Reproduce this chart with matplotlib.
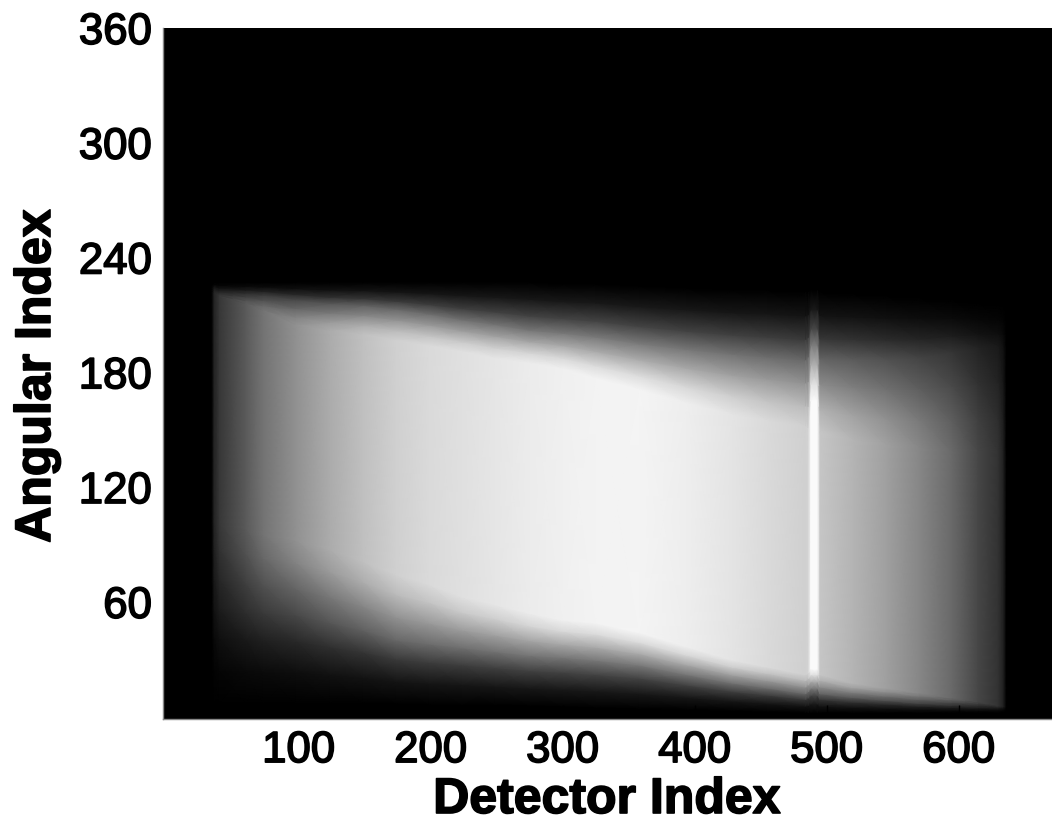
import numpy as np
import matplotlib
matplotlib.use("Agg")
import matplotlib.pyplot as plt
import matplotlib.patheffects as pe
from matplotlib.transforms import ScaledTranslation

plt.rcParams['font.family'] = ['Liberation Sans', 'DejaVu Sans']

x_ticks = [100, 200, 300, 400, 500, 600]
y_ticks = [60, 120, 180, 240, 300, 360]
x_label = "Detector Index"
y_label = "Angular Index"

detector = [34, 36, 40, 60, 73, 98, 124, 149, 174, 199, 224, 249, 275, 300, 325, 358, 394,
            429, 455, 484, 486, 488, 493, 495, 520, 545, 570, 595, 615, 630, 634, 636]
gray = [0, 35, 55, 90, 115, 145, 172, 192, 208, 218, 224, 230, 236, 240, 243, 244, 238,
        228, 218, 208, 212, 250, 250, 198, 180, 160, 135, 105, 70, 50, 30, 0]
top_black = [228, 228, 228, 228, 228, 228, 228, 228, 228, 228, 228, 228, 228, 227, 227, 226, 225,
             224, 224, 223, 223, 224, 224, 223, 222, 221, 220, 219, 217, 216, 216, 216]
top_half = [226, 226, 224, 222.5, 221.5, 219, 217, 216, 214, 211.5, 208.5, 206, 203, 201.5, 199.5, 196, 193,
            190.5, 189, 187.5, 189, 195, 195, 188, 188, 188, 189, 192, 194, 195, 195, 195]
top_full = [223, 223, 221, 217, 213.5, 206, 203, 201, 198, 195, 192, 188.5, 186, 183, 178, 172, 165,
            159, 156, 153, 152, 166, 166, 150, 146, 143.5, 142, 140, 140, 140, 140, 140]
bottom_full = [102, 102, 101, 99, 96, 93, 88, 82, 75, 70, 63.5, 59.5, 55, 51.5, 50, 45, 37.5,
               30.5, 27, 23, 24, 26, 26, 23, 18.5, 16, 13.5, 11, 9, 7, 6.5, 6.5]
bottom_half = [56, 56, 56, 55, 55, 54, 50, 46, 41, 39, 37, 35, 33, 32, 30.5, 28, 23,
               18.5, 16, 13, 14, 16, 16, 13, 11, 9.5, 8, 7, 6, 5.5, 5.5, 5.5]
bottom_black = [8, 8, 8, 8, 8, 8, 8, 8, 7.5, 7, 7, 7, 6.5, 6, 5.5, 5, 4.5,
                4, 3.5, 3, 3, 3, 3, 3, 3, 3, 3, 3, 3, 3, 3, 3]

# Fade profile across an edge: position between black and half, then half and full
fade_low_pos = [0, 0.35, 0.7, 1]
fade_low_level = [0, 0.1, 0.28, 0.5]
fade_high_pos = [0.35, 0.7, 1]
fade_high_level = [0.7, 0.9, 1]

gray_a = np.array(gray, dtype=float)


def edge_rows(black, half, full):
    black, half, full = map(lambda a: np.array(a, dtype=float), (black, half, full))
    rows, levels = [], []
    for p, l in zip(fade_low_pos, fade_low_level):
        rows.append(black + p * (half - black))
        levels.append(l)
    for p, l in zip(fade_high_pos, fade_high_level):
        rows.append(half + p * (full - half))
        levels.append(l)
    return rows, levels


bot_rows, bot_levels = edge_rows(bottom_black, bottom_half, bottom_full)
top_rows, top_levels = edge_rows(top_black, top_half, top_full)
Y = np.array(bot_rows + top_rows[::-1])
levels = np.array(bot_levels + top_levels[::-1])
X = np.tile(np.array(detector, dtype=float), (len(levels), 1))
C = np.outer(levels, gray_a)

fig = plt.figure(figsize=(10.52, 8.27), dpi=100)
ax = fig.add_axes([163 / 1052, 1 - 719 / 827, 889 / 1052, (719 - 28) / 827])
ax.set_facecolor("black")
ax.pcolormesh(X, Y, C, shading="gouraud", cmap="gray", vmin=0, vmax=255)

ax.set_xlim(-2.8, 670.7)
ax.set_ylim(-0.2, 361)
ax.set_xticks(x_ticks)
ax.set_yticks(y_ticks)
ax.tick_params(axis="both", length=10, width=1, direction="in", color="black",
               labelsize=31.5, pad=8)
stroke = [pe.withStroke(linewidth=1.2, foreground="black")]
up = ScaledTranslation(0, 2 / 100, fig.dpi_scale_trans)
for t in ax.get_xticklabels() + ax.get_yticklabels():
    t.set_path_effects(stroke)
for t in ax.get_yticklabels():
    t.set_transform(t.get_transform() + up)
for side in ("top", "right"):
    ax.spines[side].set_visible(False)
for side in ("left", "bottom"):
    ax.spines[side].set_color("#888888")
    ax.spines[side].set_linewidth(1)

fig.text(607 / 1052, 1 - 800 / 827, x_label, fontsize=36, fontweight="bold", ha="center", va="center",
         path_effects=stroke)
fig.text(37 / 1052, 1 - 376 / 827, y_label, fontsize=36, fontweight="bold", ha="center", va="center",
         rotation=90, path_effects=stroke)

fig.savefig("out.png", dpi=100)
